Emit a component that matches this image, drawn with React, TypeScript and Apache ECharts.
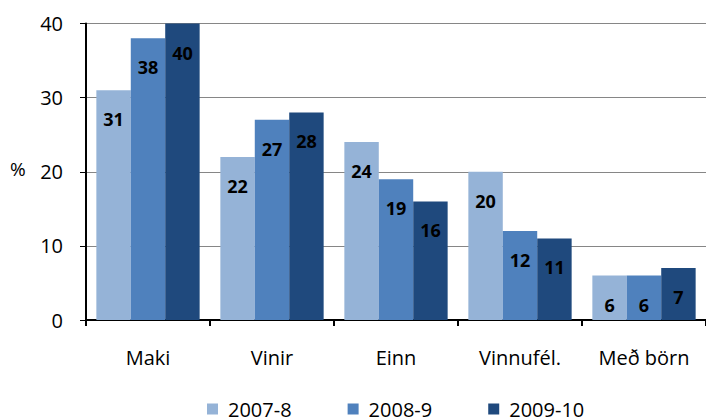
import React, { useEffect, useRef } from "react";
import * as echarts from "echarts";

const categories = ["Maki", "Vinir", "Einn", "Vinnufél.", "Með börn"];
const seriesNames = ["2007-8", "2008-9", "2009-10"];
const values2007 = [31, 22, 24, 20, 6];
const values2008 = [38, 27, 19, 12, 6];
const values2009 = [40, 28, 16, 11, 7];
const colors = ["#95B3D7", "#4F81BD", "#1F497D"];
const FONT = "Open Sans";

export default function App() {
  const ref = useRef<HTMLDivElement>(null);
  useEffect(() => {
    if (!ref.current) return;
    const chart = echarts.init(ref.current, undefined, { renderer: "svg" });
    const data = [values2007, values2008, values2009];
    chart.setOption({
      animation: false,
      grid: { left: 86, right: -10, top: 23.5, bottom: 100, containLabel: false },
      legend: {
        data: seriesNames,
        left: 202,
        top: 393,
        icon: "rect",
        itemWidth: 11,
        itemHeight: 11,
        itemGap: 56,
        textStyle: { fontFamily: FONT, fontSize: 20, lineHeight: 22, color: "#000", padding: [0, 0, 0, 5] },
      },
      graphic: [
        {
          type: "text",
          left: 10,
          top: 159,
          style: { text: "%", fontFamily: FONT, fontSize: 19, fill: "#000" },
        },
      ],
      xAxis: {
        type: "category",
        data: categories,
        axisLine: { lineStyle: { color: "#000", width: 2 } },
        axisTick: { show: true, length: 6, lineStyle: { color: "#000", width: 2 } },
        axisLabel: { fontFamily: FONT, fontSize: 20, color: "#000", margin: 27 },
      },
      yAxis: {
        type: "value",
        min: 0,
        max: 40,
        interval: 10,
        axisLine: { show: true, lineStyle: { color: "#000", width: 2 } },
        axisTick: { show: true, length: 6, lineStyle: { color: "#000", width: 1 } },
        axisLabel: { fontFamily: FONT, fontSize: 20, color: "#000", margin: 23 },
        splitLine: { lineStyle: { color: "#868686", width: 1 } },
      },
      series: seriesNames.map((name, i) => ({
        name,
        type: "bar",
        data: data[i],
        barGap: "0%",
        barCategoryGap: "16.7%",
        itemStyle: { color: colors[i] },
        label: {
          show: true,
          position: "insideTop",
          distance: 20,
          fontFamily: FONT,
          fontSize: 18,
          fontWeight: "bold",
          color: "#000",
        },
      })),
    });
    return () => chart.dispose();
  }, []);
  return <div ref={ref} style={{ width: 706, height: 420, position: "absolute", left: 0, top: 0 }} />;
}
